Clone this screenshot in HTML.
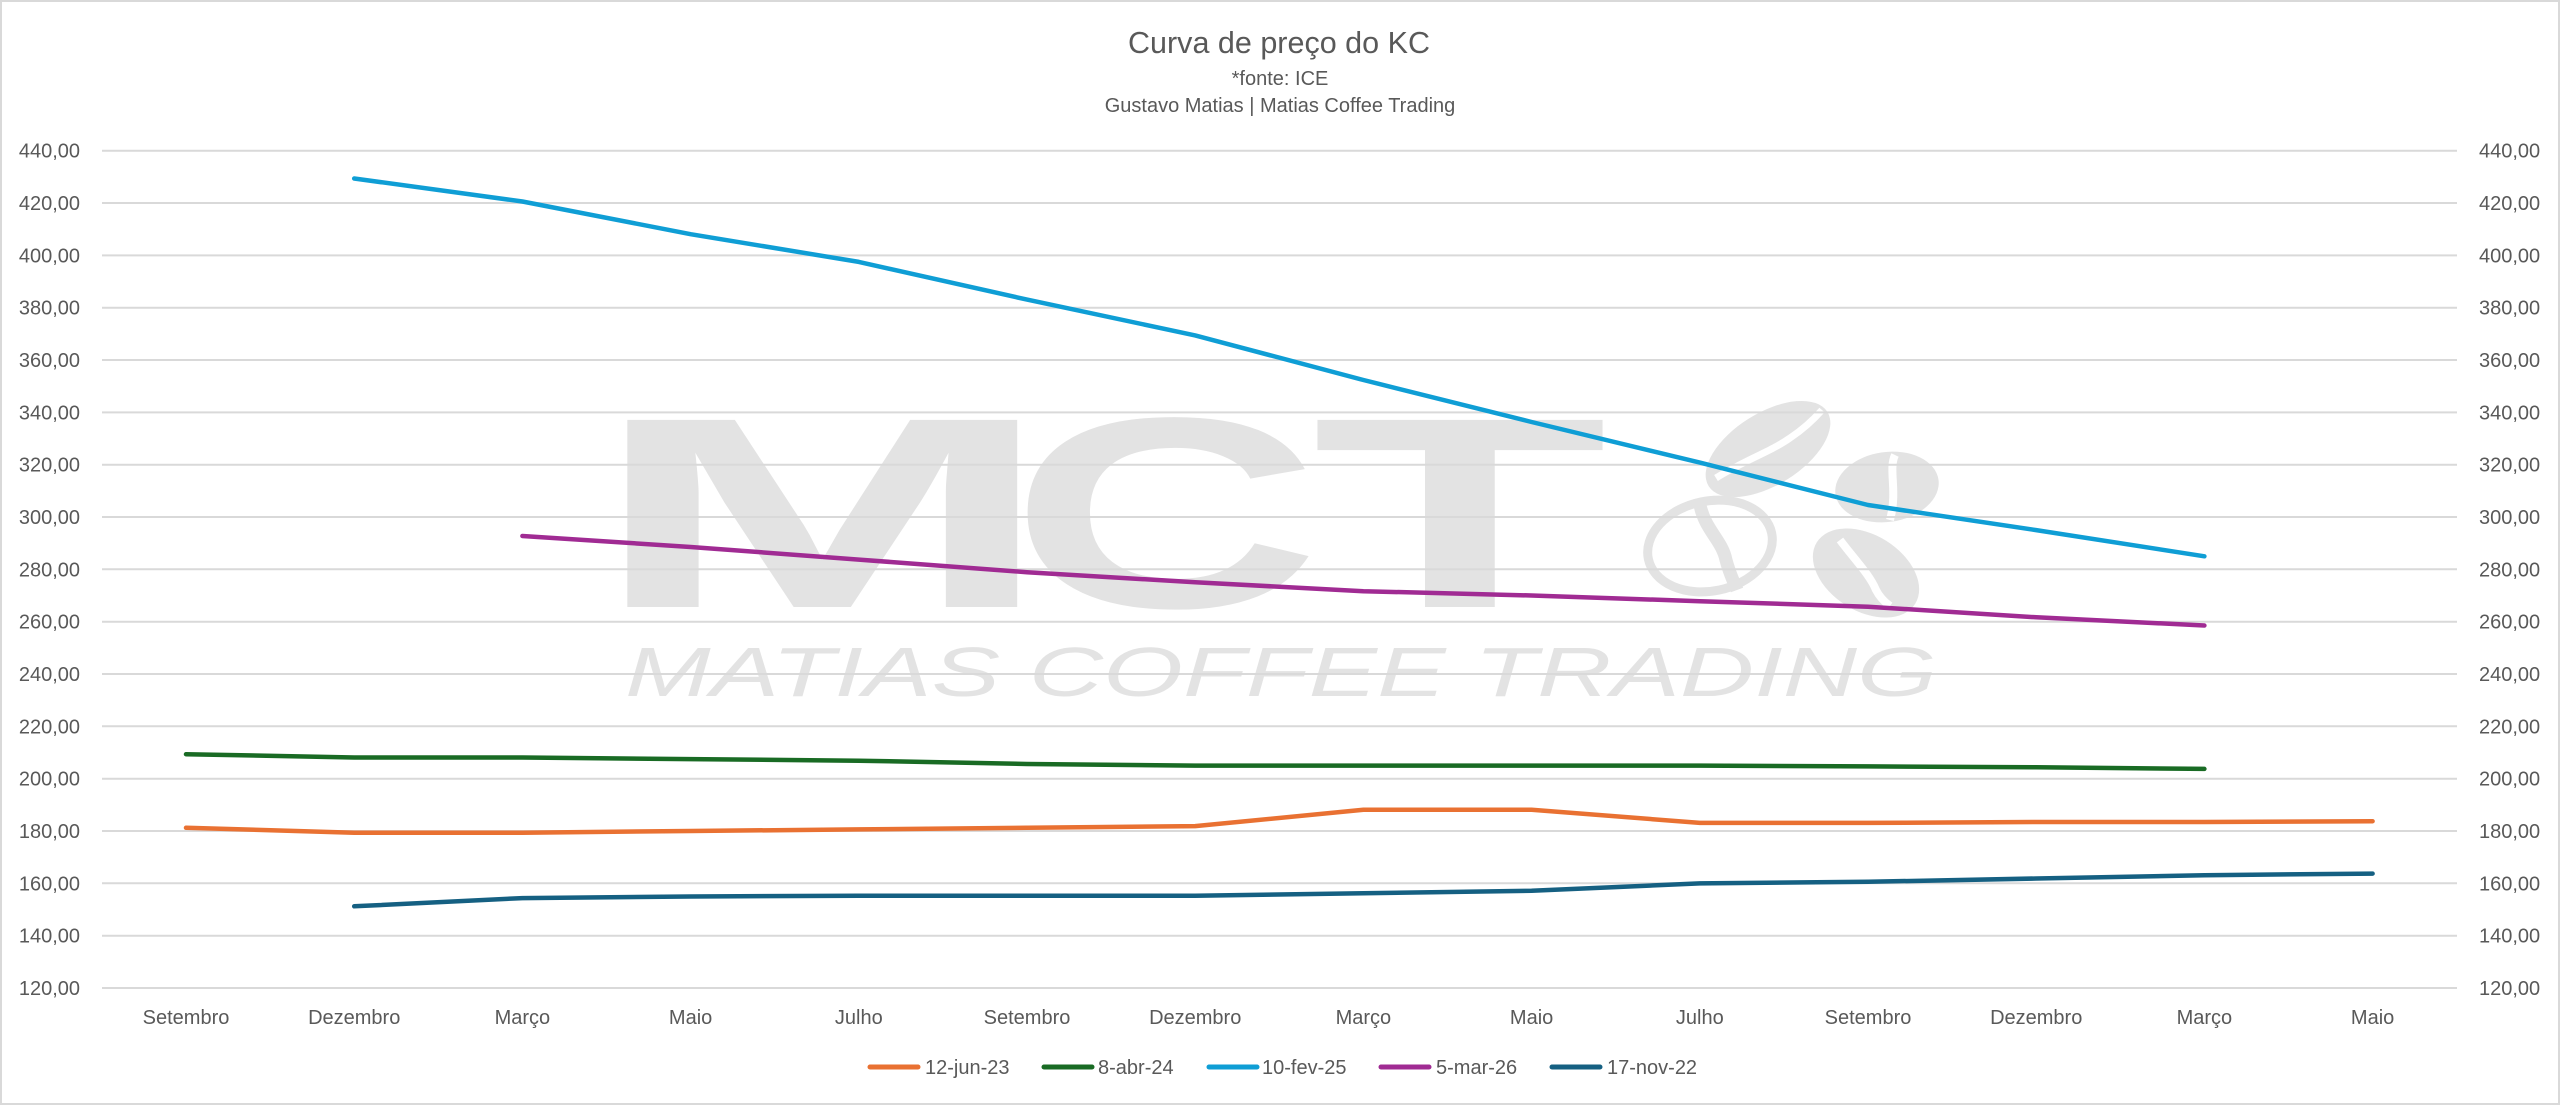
<!DOCTYPE html>
<html><head><meta charset="utf-8"><style>
html,body{margin:0;padding:0;background:#fff;}
svg{display:block;}
text{font-family:"Liberation Sans",Arial,sans-serif;fill:#595959;}
</style></head><body>
<svg width="2560" height="1105" viewBox="0 0 2560 1105" xmlns="http://www.w3.org/2000/svg">
<rect x="0" y="0" width="2560" height="1105" fill="#fff"/>
<rect x="1" y="1" width="2558" height="1103" fill="none" stroke="#d9d9d9" stroke-width="2"/>

<!-- Title -->
<text x="1279" y="53" font-size="31" text-anchor="middle" textLength="302" lengthAdjust="spacingAndGlyphs">Curva de preço do KC</text>
<text x="1280" y="85" font-size="20" text-anchor="middle">*fonte: ICE</text>
<text x="1280" y="112" font-size="20" text-anchor="middle">Gustavo Matias | Matias Coffee Trading</text>

<!-- Watermark -->
<g fill="#e3e3e3">
<text x="0" y="0" font-size="272" font-weight="bold" style="fill:#e3e3e3" transform="translate(590,607) scale(2.05,1)">M</text>
<text x="0" y="0" font-size="272" font-weight="bold" style="fill:#e3e3e3" transform="translate(1010,607) scale(1.58,1)">C</text>
<text x="0" y="0" font-size="272" font-weight="bold" style="fill:#e3e3e3" transform="translate(1312,607) scale(1.78,1)">T</text>
<text x="625" y="696" font-size="70" font-style="italic" style="fill:#e3e3e3" textLength="1312" lengthAdjust="spacingAndGlyphs">MATIAS COFFEE TRADING</text>
<!-- beans -->
<ellipse cx="1768" cy="449" rx="70" ry="36" transform="rotate(-32 1768 449)"/>
<path d="M1716 478 C1745 460 1770 452 1790 438 C1805 428 1815 418 1822 410" stroke="#fff" stroke-width="7" fill="none"/>
<ellipse cx="1887" cy="487" rx="52" ry="35" transform="rotate(-8 1887 487)"/>
<path d="M1895 455 C1888 470 1898 490 1890 520" stroke="#fff" stroke-width="8" fill="none"/>
<ellipse cx="1710" cy="546" rx="63" ry="45" transform="rotate(-12 1710 546)" fill="none" stroke="#e3e3e3" stroke-width="9"/>
<path d="M1700 505 C1705 530 1722 540 1726 560 C1730 575 1734 582 1737 590" stroke="#e3e3e3" stroke-width="13" fill="none"/>
<ellipse cx="1866" cy="573" rx="58" ry="38" transform="rotate(32 1866 573)"/>
<path d="M1840 540 C1855 560 1870 575 1876 590 C1880 598 1886 603 1890 606" stroke="#fff" stroke-width="8" fill="none"/>
</g>

<!-- Gridlines -->
<g stroke="#d9d9d9" stroke-width="2">
<line x1="102" x2="2457" y1="150.7" y2="150.7"/>
<line x1="102" x2="2457" y1="203.0" y2="203.0"/>
<line x1="102" x2="2457" y1="255.4" y2="255.4"/>
<line x1="102" x2="2457" y1="307.7" y2="307.7"/>
<line x1="102" x2="2457" y1="360.0" y2="360.0"/>
<line x1="102" x2="2457" y1="412.4" y2="412.4"/>
<line x1="102" x2="2457" y1="464.7" y2="464.7"/>
<line x1="102" x2="2457" y1="517.0" y2="517.0"/>
<line x1="102" x2="2457" y1="569.3" y2="569.3"/>
<line x1="102" x2="2457" y1="621.7" y2="621.7"/>
<line x1="102" x2="2457" y1="674.0" y2="674.0"/>
<line x1="102" x2="2457" y1="726.3" y2="726.3"/>
<line x1="102" x2="2457" y1="778.7" y2="778.7"/>
<line x1="102" x2="2457" y1="831.0" y2="831.0"/>
<line x1="102" x2="2457" y1="883.3" y2="883.3"/>
<line x1="102" x2="2457" y1="935.7" y2="935.7"/>
<line x1="102" x2="2457" y1="988.0" y2="988.0"/>
</g>

<!-- Left axis labels -->
<g font-size="20" text-anchor="end">
<text x="80" y="157.7">440,00</text>
<text x="80" y="210.0">420,00</text>
<text x="80" y="262.4">400,00</text>
<text x="80" y="314.7">380,00</text>
<text x="80" y="367.0">360,00</text>
<text x="80" y="419.4">340,00</text>
<text x="80" y="471.7">320,00</text>
<text x="80" y="524.0">300,00</text>
<text x="80" y="576.3">280,00</text>
<text x="80" y="628.7">260,00</text>
<text x="80" y="681.0">240,00</text>
<text x="80" y="733.3">220,00</text>
<text x="80" y="785.7">200,00</text>
<text x="80" y="838.0">180,00</text>
<text x="80" y="890.3">160,00</text>
<text x="80" y="942.7">140,00</text>
<text x="80" y="995.0">120,00</text>
</g>
<!-- Right axis labels -->
<g font-size="20" text-anchor="start">
<text x="2479" y="157.7">440,00</text>
<text x="2479" y="210.0">420,00</text>
<text x="2479" y="262.4">400,00</text>
<text x="2479" y="314.7">380,00</text>
<text x="2479" y="367.0">360,00</text>
<text x="2479" y="419.4">340,00</text>
<text x="2479" y="471.7">320,00</text>
<text x="2479" y="524.0">300,00</text>
<text x="2479" y="576.3">280,00</text>
<text x="2479" y="628.7">260,00</text>
<text x="2479" y="681.0">240,00</text>
<text x="2479" y="733.3">220,00</text>
<text x="2479" y="785.7">200,00</text>
<text x="2479" y="838.0">180,00</text>
<text x="2479" y="890.3">160,00</text>
<text x="2479" y="942.7">140,00</text>
<text x="2479" y="995.0">120,00</text>
</g>

<!-- X labels -->
<g font-size="20" text-anchor="middle">
<text x="186" y="1024">Setembro</text>
<text x="354.2" y="1024">Dezembro</text>
<text x="522.4" y="1024">Março</text>
<text x="690.6" y="1024">Maio</text>
<text x="858.8" y="1024">Julho</text>
<text x="1027" y="1024">Setembro</text>
<text x="1195.2" y="1024">Dezembro</text>
<text x="1363.4" y="1024">Março</text>
<text x="1531.6" y="1024">Maio</text>
<text x="1699.8" y="1024">Julho</text>
<text x="1868" y="1024">Setembro</text>
<text x="2036.2" y="1024">Dezembro</text>
<text x="2204.4" y="1024">Março</text>
<text x="2372.6" y="1024">Maio</text>
</g>

<!-- Series -->
<g fill="none" stroke-width="4.5" stroke-linejoin="round" stroke-linecap="round">
<polyline stroke="#E97132" points="186,827.8 354.2,832.7 522.4,832.7 690.6,831.0 858.8,829.4 1027,827.8 1195.2,826.1 1363.4,809.8 1531.6,809.8 1699.8,822.9 1868,822.9 2036.2,822.0 2204.4,822.0 2372.6,821.2"/>
<polyline stroke="#196B24" points="186,754.2 354.2,757.5 522.4,757.5 690.6,759.1 858.8,760.7 1027,764.0 1195.2,765.6 1363.4,765.6 1531.6,765.6 1699.8,765.6 1868,766.4 2036.2,767.3 2204.4,768.9"/>
<polyline stroke="#0F9ED5" points="354.2,178.5 522.4,201.5 690.6,234.2 858.8,261.9 1027,299.6 1195.2,335.4 1363.4,380 1531.6,422 1699.8,462.6 1868,505 2036.2,530.1 2204.4,556.3"/>
<polyline stroke="#A02B93" points="522.4,536 690.6,547 858.8,559.6 1027,572.2 1195.2,582.3 1363.4,591.2 1531.6,595.5 1699.8,601.2 1868,606.7 2036.2,617.3 2204.4,625.5"/>
<polyline stroke="#156082" points="354.2,906.3 522.4,898.1 690.6,896.5 858.8,895.7 1027,895.7 1195.2,895.7 1363.4,893.2 1531.6,890.8 1699.8,883.4 1868,881.8 2036.2,878.5 2204.4,875.2 2372.6,873.6"/>
</g>

<!-- Legend -->
<g stroke-width="5" stroke-linecap="round">
<line x1="870" x2="918" y1="1067" y2="1067" stroke="#E97132"/>
<line x1="1044" x2="1092" y1="1067" y2="1067" stroke="#196B24"/>
<line x1="1209" x2="1257" y1="1067" y2="1067" stroke="#0F9ED5"/>
<line x1="1381" x2="1429" y1="1067" y2="1067" stroke="#A02B93"/>
<line x1="1552" x2="1600" y1="1067" y2="1067" stroke="#156082"/>
</g>
<g font-size="20">
<text x="925" y="1074">12-jun-23</text>
<text x="1098" y="1074">8-abr-24</text>
<text x="1262" y="1074">10-fev-25</text>
<text x="1436" y="1074">5-mar-26</text>
<text x="1607" y="1074">17-nov-22</text>
</g>
</svg>
</body></html>
